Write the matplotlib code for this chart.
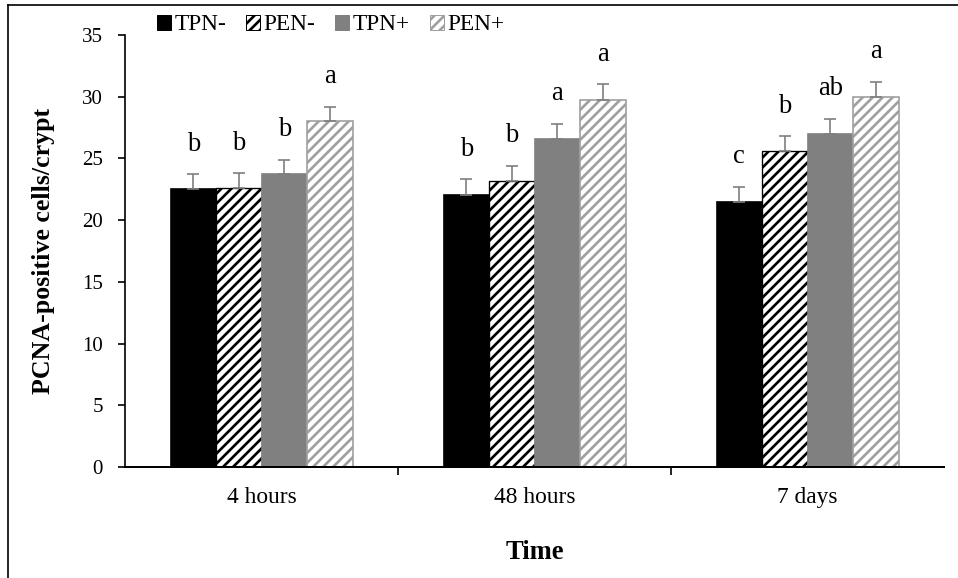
import matplotlib.pyplot as plt
import numpy as np
from matplotlib.patches import Patch
from matplotlib.lines import Line2D

plt.rcParams['font.family'] = ['Liberation Serif', 'DejaVu Serif']
plt.rcParams['hatch.linewidth'] = 1.6

# PCNA-positive cells per crypt, mean and upper SE
times = ['4 hours', '48 hours', '7 days']
groups = ['TPN-', 'PEN-', 'TPN+', 'PEN+']
tpn_minus = [22.5, 22.0, 21.5]
pen_minus = [22.6, 23.2, 25.6]
tpn_plus = [23.7, 26.6, 27.0]
pen_plus = [28.0, 29.7, 30.0]
tpn_minus_err = [1.2, 1.3, 1.2]
pen_minus_err = [1.2, 1.2, 1.2]
tpn_plus_err = [1.2, 1.2, 1.2]
pen_plus_err = [1.2, 1.3, 1.2]
tpn_minus_sig = ['b', 'b', 'c']
pen_minus_sig = ['b', 'b', 'b']
tpn_plus_sig = ['b', 'a', 'ab']
pen_plus_sig = ['a', 'a', 'a']

series = [
    (tpn_minus, tpn_minus_err, tpn_minus_sig, dict(color='black', edgecolor='black')),
    (pen_minus, pen_minus_err, pen_minus_sig, dict(color='white', edgecolor='black', hatch='////', linewidth=0.8)),
    (tpn_plus, tpn_plus_err, tpn_plus_sig, dict(color='#808080', edgecolor='#808080')),
    (pen_plus, pen_plus_err, pen_plus_sig, dict(color='white', edgecolor='#a0a0a0', hatch='////', linewidth=1.0)),
]

fig = plt.figure(figsize=(958 / 120, 578 / 120), dpi=120)
ax = fig.add_axes([125 / 958, 111 / 578, 819 / 958, 432 / 578])

x = np.arange(len(times))
w = 1 / 6
offsets = [-1.5, -0.5, 0.5, 1.5]

for (vals, errs, sig, style), off in zip(series, offsets):
    pos = x + off * w
    ax.bar(pos, vals, width=w, **style)
    ax.errorbar(pos, vals, yerr=[np.zeros(len(errs)), errs], fmt='none',
                ecolor='#7f7f7f', elinewidth=1.0, capsize=3.5, capthick=1.0)
    for p, v, e, s in zip(pos, vals, errs, sig):
        ax.text(p, v + e + 1.9, s, ha='center', va='baseline', fontsize=16)

ax.set_xlim(-0.5, 2.5)
ax.set_ylim(0, 35)
ax.set_yticks(range(0, 36, 5))
ax.set_xticks(x)
ax.set_xticklabels(times, fontsize=14)
ax.set_xticks([0.5, 1.5], minor=True)
ax.tick_params(axis='x', which='major', length=0, pad=12)
ax.tick_params(axis='x', which='minor', length=5, width=1.0, direction='out')
ax.tick_params(axis='y', length=4.2, width=1.0, direction='out', labelsize=12.5, pad=9)

ax.spines['top'].set_visible(False)
ax.spines['right'].set_visible(False)
ax.spines['left'].set_linewidth(1.0)
ax.spines['bottom'].set_linewidth(1.2)

ax.set_xlabel('Time', fontsize=16, fontweight='bold', labelpad=19)
ax.set_ylabel('PCNA-positive cells/crypt', fontsize=15.5, fontweight='bold', labelpad=16)

handles = [Patch(facecolor=s[3]['color'], edgecolor=s[3]['edgecolor'],
                 hatch=s[3].get('hatch'), linewidth=0.6) for s in series]
fig.legend(handles, groups, loc='center left', bbox_to_anchor=(157 / 958, 1 - 25 / 578),
           ncol=4, frameon=False, fontsize=14, handlelength=0.6, handleheight=0.6,
           handletextpad=0.15, columnspacing=0.85, borderpad=0, borderaxespad=0)

# outer frame around the chart area
fig.add_artist(Line2D([8 / 958, 8 / 958], [0, 1 - 5 / 578], color='black', linewidth=1.0,
                      transform=fig.transFigure))
fig.add_artist(Line2D([8 / 958, 1], [1 - 5 / 578, 1 - 5 / 578], color='black', linewidth=1.0,
                      transform=fig.transFigure))

fig.savefig('out.png', dpi=120)
